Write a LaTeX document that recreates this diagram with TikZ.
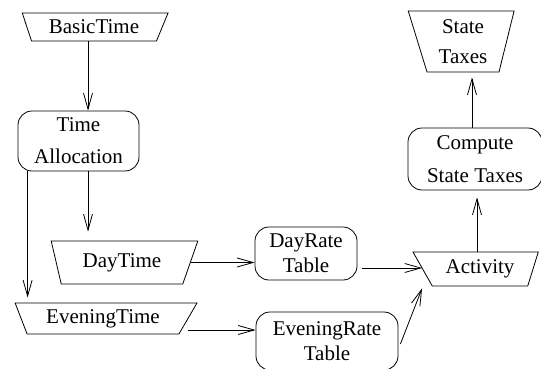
\documentclass[tikz,border=0pt]{standalone}
\usepackage{fontspec}
\setmainfont{Liberation Serif}
\usetikzlibrary{shapes.geometric, arrows.meta, positioning}

\begin{document}
\begin{tikzpicture}[
    x=1pt, y=1pt,
    every node/.style={font=\fontsize{21}{32}\selectfont},
    store/.style={trapezium, draw=black, line width=0.8pt, trapezium stretches=true, inner sep=1pt, align=center},
    rbox/.style={rectangle, rounded corners=14pt, draw=black, line width=0.8pt, inner sep=2pt, align=center},
    arrow/.style={-{Straight Barb[length=16pt,width=9pt]}, line width=0.8pt}
]
\useasboundingbox (0,0) rectangle (541,368);

% Time data
\node[store, minimum width=146pt, minimum height=28pt, trapezium left angle=113, trapezium right angle=118] (basic) at (94,341) {BasicTime};
\node[rbox, minimum width=121pt, minimum height=60pt] (alloc) at (78.5,227) {Time\\Allocation};
\node[store, minimum width=148pt, minimum height=43pt, trapezium left angle=108, trapezium right angle=116] (day) at (122,105.5) {DayTime};
\node[store, minimum width=182pt, minimum height=31pt, trapezium left angle=114, trapezium right angle=124] (even) at (103,49.5) {EveningTime};

% Rate tables
\node[rbox, minimum width=102pt, minimum height=53pt, font=\fontsize{21}{25}\selectfont] (dayrate) at (306,114.5) {DayRate\\Table};
\node[rbox, minimum width=142pt, minimum height=58pt, font=\fontsize{21}{25}\selectfont] (evenrate) at (327,27) {EveningRate\\Table};

% Taxes
\node[store, minimum width=126pt, minimum height=34pt, trapezium left angle=125, trapezium right angle=111] (act) at (480,99) {Activity};
\node[rbox, minimum width=134pt, minimum height=62pt, font=\fontsize{21}{33}\selectfont] (comp) at (475,209) {Compute\\State Taxes};
\node[store, minimum width=106pt, minimum height=61pt, trapezium left angle=106, trapezium right angle=103, font=\fontsize{21}{30}\selectfont] (state) at (463,326.5) {State\\Taxes};

% Arrows
\draw[arrow] ([xshift=-6pt]basic.south) -- ([xshift=-6pt]basic.south |- alloc.north);
\draw[arrow, shorten >=9pt] ([xshift=9.5pt]alloc.south) -- ([xshift=9.5pt]alloc.south |- day.north);
\draw[arrow, shorten >=5pt] ([xshift=10pt]alloc.south west) -- ([xshift=10pt]alloc.south west |- even.north);
\draw[arrow] (day.east) -- (day.east -| dayrate.west);
\draw[arrow] ([yshift=-11.5pt]even.east) -- ([yshift=-11.5pt]even.east -| evenrate.west);
\draw[arrow] ([xshift=5pt,yshift=-14.5pt]dayrate.east) -- ([yshift=-14.5pt]dayrate.east -| act.west);
\draw[arrow] ([xshift=2pt,yshift=-3pt]evenrate.east) -- ([xshift=-10pt,yshift=-2pt]act.bottom left corner);
\draw[arrow, shorten >=7pt] ([xshift=-3pt]act.north) -- ([xshift=-3pt]act.north |- comp.south);
\draw[arrow, shorten >=5pt] ([xshift=-3pt]comp.north) -- ([xshift=-3pt]comp.north |- state.south);

\end{tikzpicture}
\end{document}
